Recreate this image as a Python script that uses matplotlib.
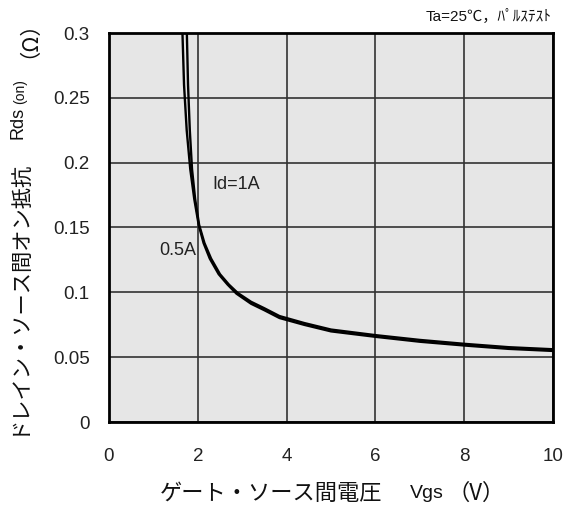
import matplotlib
matplotlib.use("Agg")
import matplotlib.pyplot as plt

# Rds(on) vs Vgs, pulse test at Ta=25C
vgs_1a = [1.75, 1.78, 1.82, 1.87, 1.94, 2.03, 2.15, 2.30, 2.50, 2.70, 2.90,
          3.20, 3.50, 3.84, 4.40, 5.00, 6.00, 7.00, 8.00, 9.00, 10.0]
rds_1a = [0.305, 0.26, 0.225, 0.195, 0.172, 0.152, 0.138, 0.126, 0.114, 0.106, 0.0995,
          0.0927, 0.0877, 0.0817, 0.0763, 0.0713, 0.0670, 0.0633, 0.0603, 0.0577, 0.0561]

vgs_05a = [1.65, 1.69, 1.75, 1.83, 1.92, 2.02, 2.13, 2.27, 2.47, 2.67, 2.87,
           3.20, 3.50, 3.84, 4.40, 5.00, 6.00, 7.00, 8.00, 9.00, 10.0]
rds_05a = [0.305, 0.26, 0.225, 0.195, 0.172, 0.152, 0.138, 0.126, 0.114, 0.106, 0.099,
           0.0912, 0.0862, 0.0802, 0.0749, 0.0699, 0.0657, 0.0619, 0.0590, 0.0564, 0.0548]

x_ticks = [0, 2, 4, 6, 8, 10]
y_ticks = [0, 0.05, 0.1, 0.15, 0.2, 0.25, 0.3]
y_ticklabels = ["0", "0.05", "0.1", "0.15", "0.2", "0.25", "0.3"]

LATIN = "Liberation Sans"
JP = ["Noto Sans CJK JP", "DejaVu Sans"]
MIXED = [LATIN, "Noto Sans CJK JP", "DejaVu Sans"]
INK = "#111111"

W, H = 566, 511
fig = plt.figure(figsize=(W / 100, H / 100), dpi=100)
ax = fig.add_axes([109 / W, 89 / H, 444 / W, 389 / H])
ax.set_facecolor("#e6e6e6")

ax.plot(vgs_1a, rds_1a, color="black", lw=1.7, solid_joinstyle="round")
ax.plot(vgs_05a, rds_05a, color="black", lw=1.7, solid_joinstyle="round")

ax.set_xlim(0, 10)
ax.set_ylim(0, 0.3)
ax.set_xticks(x_ticks)
ax.set_yticks(y_ticks)
ax.set_yticklabels(y_ticklabels)
ax.grid(True, color="#333333", lw=1.2)
ax.set_axisbelow(True)
ax.tick_params(length=0, labelsize=13.5, colors="#222222")
ax.tick_params(axis="y", pad=14)
ax.tick_params(axis="x", pad=19)
for lbl in ax.get_xticklabels() + ax.get_yticklabels():
    lbl.set_family(LATIN)
for sp in ax.spines.values():
    sp.set_linewidth(2.0)
    sp.set_color("black")

ax.text(2.33, 0.183, "Id=1A", fontsize=13, family=LATIN, color="#222222",
        va="center", ha="left")
ax.text(1.97, 0.132, "0.5A", fontsize=13, family=LATIN, color="#222222",
        va="center", ha="right")

fig.text(552 / W, 1 - 16 / H, "Ta=25℃，ﾊﾟﾙｽﾃｽﾄ", fontsize=11,
         family=MIXED, ha="right", va="center", color=INK)


def px(x, y):
    return x / W, 1 - y / H


renderer = fig.canvas.get_renderer()

# x axis label: pieces laid left to right, each placed after the previous one
xl_y = 493
xl_parts = [("ゲート・ソース間電圧", JP, 16, 0),
            ("Vgs", LATIN, 14, 27),
            ("（V）", JP, 16, 4)]
cur = 160
for s, fam, size, gap in xl_parts:
    cur += gap
    t = fig.text(*px(cur, xl_y), s, fontsize=size, family=fam,
                 ha="left", va="center", color=INK)
    cur += t.get_window_extent(renderer).width

# y axis label: pieces stacked bottom to top, rotated
yl_x = 18
yl_parts = [("ドレイン・ソース間オン抵抗", JP, 15.3, 0, 0),
            ("Rds", LATIN, 13, 20, 0),
            ("(on)", LATIN, 10, 3, 2)]
cur = 435
for s, fam, size, gap, dx in yl_parts:
    cur -= gap
    t = fig.text(*px(yl_x + dx, cur), s, fontsize=size, family=fam,
                 rotation=90, ha="center", va="bottom", color=INK)
    cur -= t.get_window_extent(renderer).height
# unit sits near the top edge, centred on its own spot
fig.text(*px(yl_x, 29), "（Ω）", fontsize=15.3, family=JP,
         rotation=90, ha="center", va="center", color=INK)

fig.savefig("out.png", dpi=100)
